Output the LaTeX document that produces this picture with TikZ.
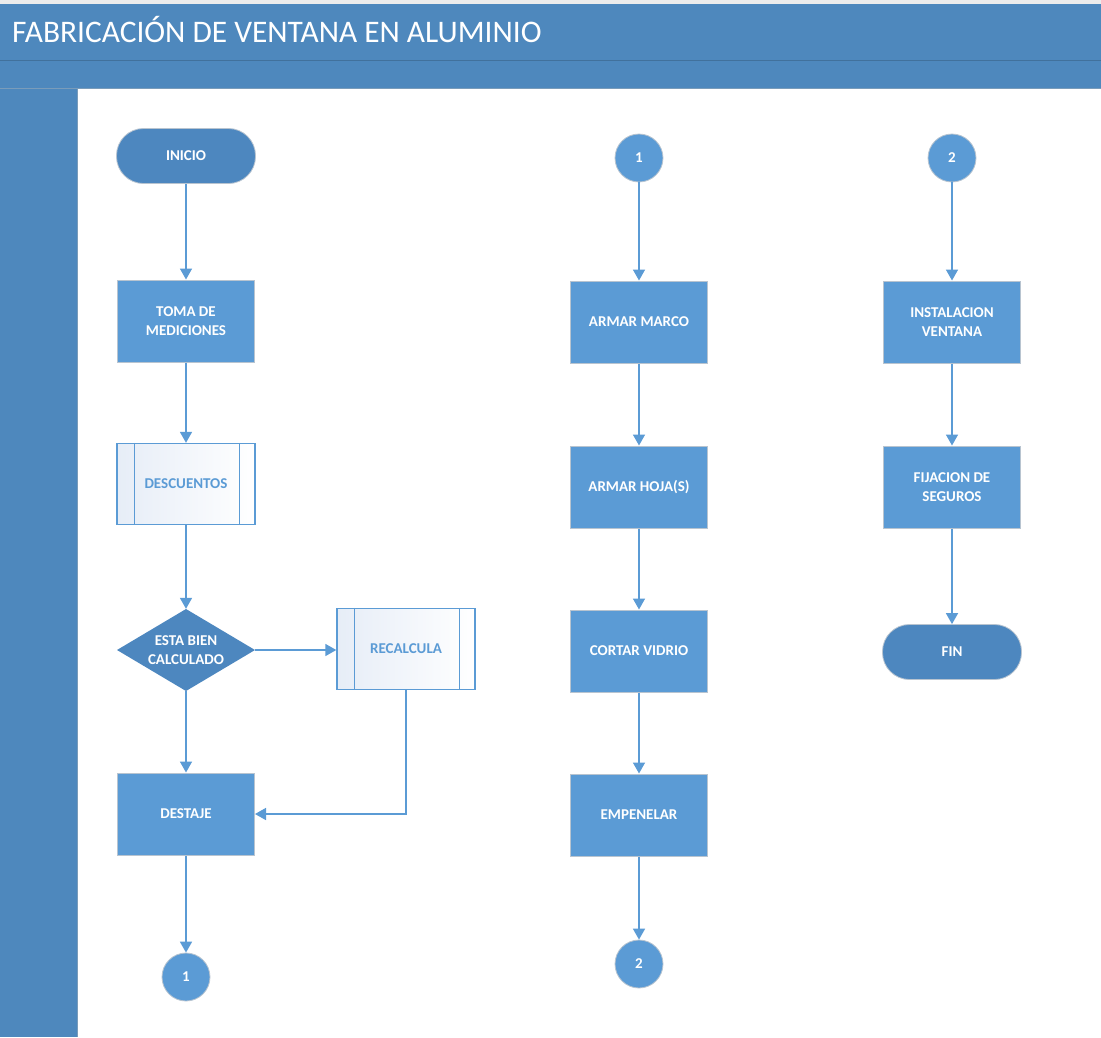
\documentclass[tikz,border=0pt]{standalone}
\usepackage{fontspec}
\setmainfont{Carlito}
\usetikzlibrary{arrows.meta}

\definecolor{band}{HTML}{4E88BD}
\definecolor{bandline}{HTML}{41719C}
\definecolor{boxblue}{HTML}{5B9BD5}
\definecolor{darkblue}{HTML}{4D87BF}
\definecolor{edgegray}{HTML}{B8C4D0}
\definecolor{paleblue}{HTML}{E6EDF7}

\tikzset{
  lbl/.style={font=\fontsize{15}{17}\selectfont\bfseries, align=center, inner sep=0pt},
  procbox/.style={lbl, rectangle, fill=boxblue, draw=edgegray, line width=1pt,
    minimum width=137pt, minimum height=82pt, text=white},
  predef/.style={lbl, rectangle, left color=paleblue, right color=white, draw=boxblue,
    line width=1.4pt, minimum width=138pt, minimum height=81pt, text=boxblue},
  termbox/.style={lbl, rectangle, rounded corners=27pt, fill=darkblue, draw=edgegray,
    line width=0.8pt, minimum width=139pt, minimum height=55pt, text=white},
  % decision: a fixed-size box with the diamond filled inside it
  decbox/.style={lbl, rectangle, draw=none, minimum width=138pt,
    minimum height=82pt, text=white,
    path picture={\fill[darkblue]
      (path picture bounding box.north) -- (path picture bounding box.east) --
      (path picture bounding box.south) -- (path picture bounding box.west) -- cycle;}},
  conn/.style={lbl, circle, fill=boxblue, draw=edgegray, line width=0.8pt,
    minimum size=48pt, text=white},
  flow/.style={draw=boxblue, line width=1.6pt, -{Triangle[width=12pt,length=11pt]}}
}

\begin{document}
\begin{tikzpicture}[x=1pt,y=-1pt]
  \useasboundingbox (0,0) rectangle (1101,1037);

  % page frame: header bands and left column
  \fill[white] (0,0) rectangle (1101,1037);
  \fill[gray!15] (0,0) rectangle (1101,4);
  \fill[band] (0,4) rectangle (1101,88);
  \fill[band] (0,88) rectangle (77,1037);
  \draw[bandline, line width=1.5pt] (0,60.5) -- (1101,60.5);
  \draw[bandline!70, line width=1pt] (0,88) -- (1101,88);
  \draw[bandline!70, line width=1pt] (77,88) -- (77,1037);
  \node[anchor=base west, inner sep=0pt, text=white,
        font=\fontsize{31.4}{34}\selectfont] (title) at (12,42)
        {FABRICACIÓN DE VENTANA EN ALUMINIO};

  % first column
  \node[termbox] (inicio) at (186,156) {INICIO};
  \node[procbox] (toma) at (186,321) {TOMA DE\\[2pt]MEDICIONES};
  \node[predef]  (desc) at (186,484) {DESCUENTOS};
  \node[decbox]  (calc) at (186,650) {ESTA BIEN\\[2pt]CALCULADO};
  \node[predef]  (recalc) at (406,649) {RECALCULA};
  \node[procbox] (destaje) at (186,814) {DESTAJE};
  \node[conn]    (c1out) at (186,977) {1};

  % second column
  \node[conn]    (c1in) at (639,158) {1};
  \node[procbox] (marco) at (639,322) {ARMAR MARCO};
  \node[procbox] (hoja) at (639,487) {ARMAR HOJA(S)};
  \node[procbox] (vidrio) at (639,651) {CORTAR VIDRIO};
  \node[procbox] (empe) at (639,815) {EMPENELAR};
  \node[conn]    (c2out) at (639,964) {2};

  % third column
  \node[conn]    (c2in) at (952,158) {2};
  \node[procbox] (inst) at (952,322) {INSTALACION\\[2pt]VENTANA};
  \node[procbox] (fija) at (952,487) {FIJACION DE\\[2pt]SEGUROS};
  \node[termbox] (fin) at (952,652) {FIN};

  % inner bars of the predefined-process boxes
  \foreach \n in {desc,recalc}{
    \draw[boxblue, line width=1.4pt]
      ([xshift=18pt]\n.north west) -- ([xshift=18pt]\n.south west)
      ([xshift=-16pt]\n.north east) -- ([xshift=-16pt]\n.south east);
  }

  % connectors
  \draw[flow] (inicio) -- (toma);
  \draw[flow] (toma) -- (desc);
  \draw[flow] (desc) -- (calc);
  \draw[flow] (calc.east) -- (recalc.west |- calc.east);
  \draw[flow] (calc) -- (destaje);
  \draw[flow] (recalc.south) |- (destaje.east);
  \draw[flow] (destaje) -- (c1out);

  \draw[flow] (c1in) -- (marco);
  \draw[flow] (marco) -- (hoja);
  \draw[flow] (hoja) -- (vidrio);
  \draw[flow] (vidrio) -- (empe);
  \draw[flow] (empe) -- (c2out);

  \draw[flow] (c2in) -- (inst);
  \draw[flow] (inst) -- (fija);
  \draw[flow] (fija) -- (fin);
\end{tikzpicture}
\end{document}
